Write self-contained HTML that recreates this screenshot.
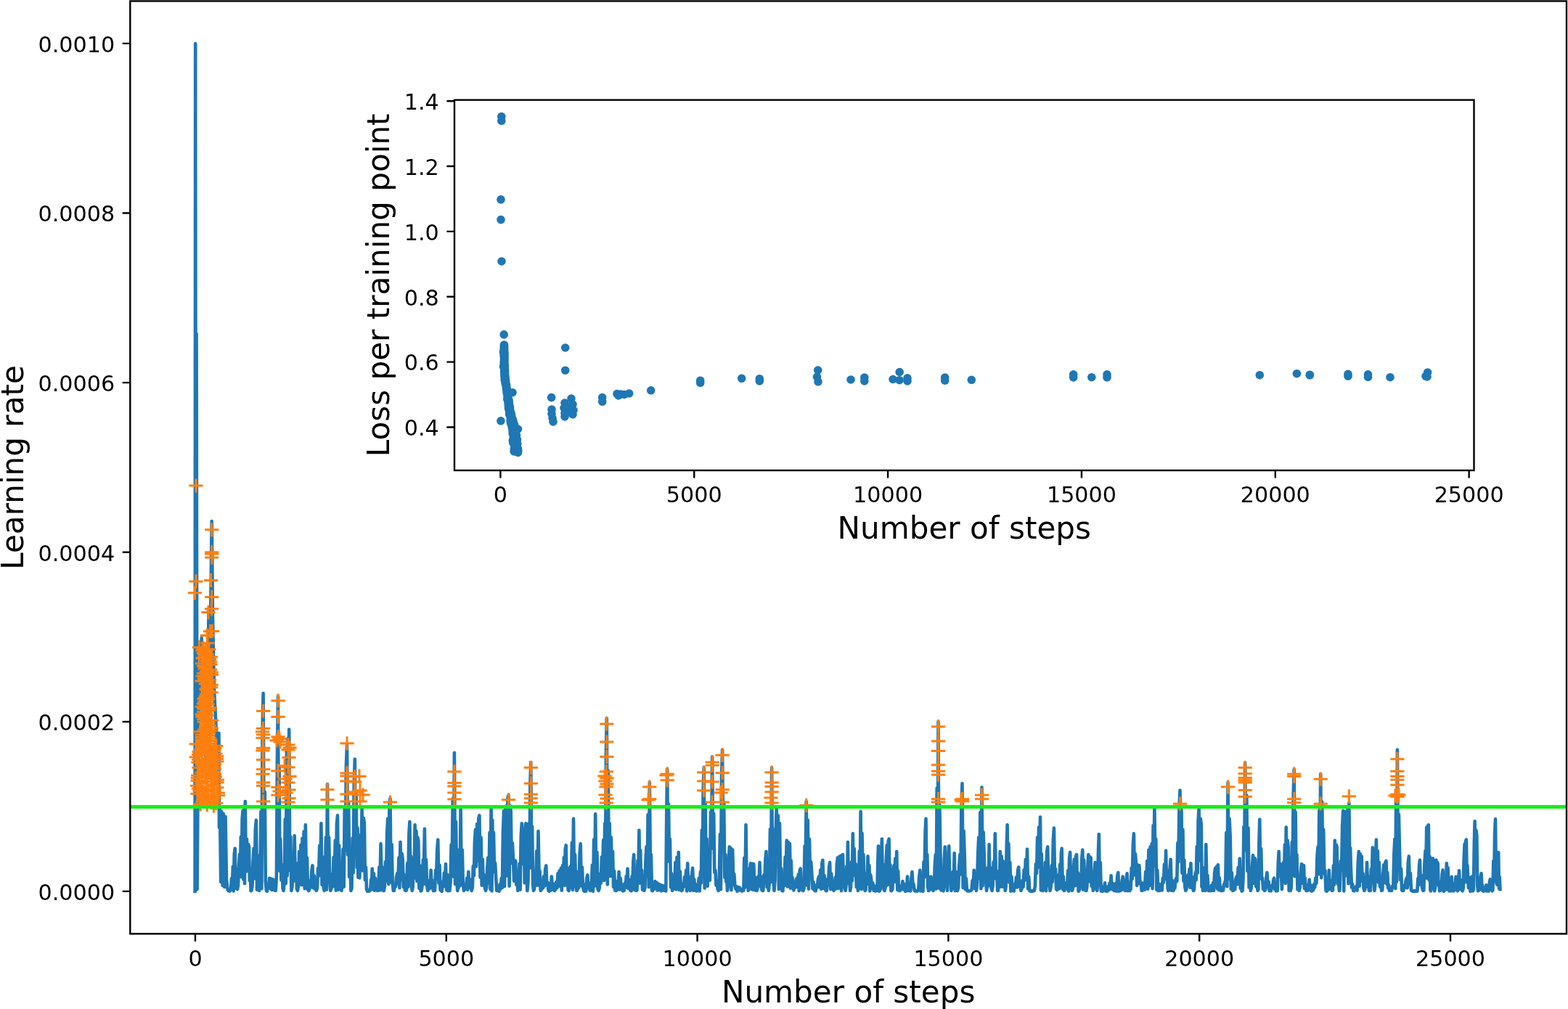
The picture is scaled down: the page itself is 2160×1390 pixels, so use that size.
<!DOCTYPE html>
<html><head><meta charset="utf-8"><title>Learning rate plot</title>
<style>
html,body{margin:0;padding:0;background:#fff;width:2160px;height:1390px;overflow:hidden}
svg{display:block}
.t{font-family:"DejaVu Sans","Liberation Sans",sans-serif;font-size:30.2px;fill:#000}
.l{font-family:"DejaVu Sans","Liberation Sans",sans-serif;font-size:42.1px;fill:#000}
</style></head><body>
<svg width="2160" height="1390" viewBox="0 0 2160 1390">
<rect width="2160" height="1390" fill="#fff"/>
<path d="M268.6 1228.0 L269.2 60.0 L270.0 1226.0 L270.6 460.0 L271.6 1225.0 L272.5 1100.0 L274.5 960.0 L277.7 879.0 L280.0 950.0 L282.0 1000.0 L284.5 1069.0 L286.0 990.0 L287.5 840.0 L289.5 900.0 L291.7 718.0 L293.0 850.0 L295.0 950.0 L297.5 1000.0 L300.0 1060.0 L301.5 1010.0 L302.0 1140.0 L303.0 1115.0 L304.2 1215.0 L305.2 1118.0 L306.6 1220.0 L307.8 1121.0 L309.2 1222.0 L310.5 1125.0 L312.0 1212.0 L313.5 1225.0 L314.4 1226.9 L315.2 1226.0 L316.1 1227.8 L317.0 1227.0 L318.0 1225.6 L318.9 1210.3 L319.9 1224.7 L320.8 1193.7 L321.8 1227.5 L322.7 1177.0 L323.7 1168.7 L324.5 1218.5 L325.4 1196.8 L326.2 1224.1 L327.0 1225.0 L328.0 1220.0 L329.0 1193.0 L330.0 1177.0 L330.9 1207.2 L331.8 1153.0 L332.7 1208.3 L333.6 1129.0 L334.5 1117.0 L335.3 1211.4 L336.1 1110.5 L337.0 1217.2 L337.8 1104.0 L338.9 1200.6 L340.0 1156.0 L341.0 1199.1 L342.0 1163.0 L343.0 1166.5 L343.9 1213.1 L344.7 1196.8 L345.5 1227.2 L346.4 1227.0 L347.5 1220.7 L348.5 1188.1 L349.6 1168.7 L350.7 1210.1 L351.8 1142.8 L352.9 1129.9 L354.0 1225.6 L355.0 1178.5 L356.1 1216.9 L357.2 1227.0 L358.3 1218.0 L359.4 1118.2 L360.4 1224.2 L361.5 1009.5 L362.6 955.1 L363.7 1157.0 L364.8 1091.0 L365.8 1213.9 L366.9 1227.0 L368.0 1227.7 L369.0 1218.3 L370.1 1222.5 L371.2 1209.7 L372.3 1224.1 L373.4 1210.5 L374.4 1226.0 L375.5 1211.4 L376.6 1211.8 L377.7 1226.3 L378.7 1221.9 L379.8 1227.0 L380.9 1206.3 L381.9 1048.6 L383.0 959.4 L383.8 1149.4 L384.6 1057.5 L385.5 1200.1 L386.3 1155.7 L387.4 1212.5 L388.5 1191.3 L389.5 1223.5 L390.6 1227.0 L391.7 1213.6 L392.8 1128.5 L393.8 1217.1 L394.9 1030.0 L395.7 1206.6 L396.5 1017.4 L397.4 1161.0 L398.2 1004.7 L399.3 1199.2 L400.3 1152.9 L401.4 1227.0 L402.5 1221.4 L403.5 1189.2 L404.6 1213.7 L405.7 1151.4 L406.8 1211.1 L407.9 1189.2 L408.9 1224.8 L410.0 1227.0 L411.1 1220.0 L412.2 1173.0 L413.3 1213.4 L414.4 1163.8 L415.4 1219.2 L416.5 1154.7 L417.6 1207.3 L418.6 1145.5 L419.7 1224.2 L420.8 1136.3 L421.9 1202.5 L423.0 1181.7 L424.0 1225.2 L425.1 1227.0 L426.2 1225.9 L427.3 1213.2 L428.3 1222.3 L429.4 1199.3 L430.5 1192.4 L431.6 1223.2 L432.7 1206.2 L433.7 1224.7 L434.8 1220.1 L435.9 1227.0 L437.0 1223.6 L438.1 1196.1 L439.1 1206.6 L440.2 1165.1 L441.3 1195.9 L442.4 1134.2 L443.5 1218.7 L444.5 1180.6 L445.6 1222.7 L446.7 1227.0 L447.8 1222.8 L448.9 1153.6 L449.9 1225.7 L451.0 1080.2 L452.1 1212.1 L453.1 1153.6 L454.2 1211.9 L455.3 1227.0 L456.4 1224.0 L457.5 1204.0 L458.5 1221.4 L459.6 1181.0 L460.7 1207.8 L461.8 1157.9 L462.8 1226.6 L463.9 1134.9 L465.0 1123.4 L466.1 1225.8 L467.2 1164.8 L468.2 1225.0 L469.3 1206.3 L470.4 1227.0 L471.5 1220.9 L472.6 1169.7 L473.7 1221.7 L474.7 1112.3 L475.8 1171.5 L476.9 1055.0 L478.0 1026.3 L479.1 1177.7 L480.2 1106.6 L481.2 1208.3 L482.3 1186.9 L483.4 1227.0 L484.5 1223.6 L485.6 1154.5 L486.6 1202.5 L487.7 1082.0 L488.8 1045.7 L489.7 1166.3 L490.6 1093.1 L491.6 1195.1 L492.5 1140.6 L493.4 1208.6 L494.3 1188.0 L495.4 1209.4 L496.5 1150.3 L497.5 1191.7 L498.6 1112.6 L499.7 1199.4 L500.8 1126.9 L501.9 1134.0 L502.9 1212.1 L504.0 1194.5 L505.0 1224.8 L506.1 1227.6 L507.2 1225.9 L508.3 1227.8 L509.4 1227.0 L510.2 1226.1 L511.1 1211.8 L511.9 1222.2 L512.7 1196.7 L513.8 1225.1 L514.9 1203.2 L515.9 1226.8 L517.0 1209.7 L518.1 1226.1 L519.1 1221.2 L520.2 1227.0 L521.3 1226.4 L522.4 1194.6 L523.4 1226.5 L524.5 1162.2 L525.6 1206.5 L526.6 1194.6 L527.7 1226.9 L528.8 1227.0 L529.9 1221.1 L531.0 1187.3 L532.0 1213.6 L533.1 1147.6 L534.2 1127.7 L535.3 1217.9 L536.4 1109.0 L537.5 1099.7 L538.6 1215.6 L539.6 1163.3 L540.7 1215.3 L541.8 1227.0 L542.9 1227.0 L544.0 1217.5 L545.0 1221.5 L546.1 1208.0 L547.2 1203.2 L548.3 1217.6 L549.4 1181.6 L550.4 1223.1 L551.5 1160.0 L552.6 1212.5 L553.6 1175.9 L554.7 1183.8 L555.8 1221.9 L556.9 1205.4 L557.9 1226.5 L559.0 1227.0 L560.1 1226.3 L561.2 1189.0 L562.2 1221.7 L563.3 1151.0 L564.4 1132.0 L565.2 1195.7 L566.0 1179.5 L566.9 1221.5 L567.7 1227.0 L568.7 1222.2 L569.7 1181.7 L570.6 1198.6 L571.6 1136.3 L572.5 1209.9 L573.5 1144.9 L574.4 1214.0 L575.4 1153.6 L576.3 1157.9 L577.4 1223.8 L578.5 1192.5 L579.5 1227.4 L580.6 1227.0 L581.7 1219.2 L582.8 1184.3 L583.8 1205.4 L584.9 1141.7 L586.0 1217.9 L587.0 1184.3 L588.1 1219.2 L589.2 1227.0 L590.3 1225.1 L591.4 1213.0 L592.5 1223.7 L593.6 1198.9 L594.7 1219.7 L595.8 1213.0 L596.8 1227.1 L597.9 1227.0 L599.0 1226.9 L600.1 1198.9 L601.1 1209.2 L602.2 1170.8 L603.3 1156.8 L604.4 1216.6 L605.5 1191.9 L606.5 1226.2 L607.6 1227.0 L608.7 1227.8 L609.7 1214.8 L610.8 1221.6 L611.9 1202.5 L612.9 1216.1 L614.0 1190.3 L615.1 1226.2 L616.2 1205.0 L617.2 1227.3 L618.3 1219.7 L619.4 1227.0 L620.5 1216.1 L621.6 1163.7 L622.6 1203.8 L623.7 1100.4 L624.8 1207.8 L625.9 1037.1 L627.0 1217.9 L628.0 1132.0 L629.1 1209.8 L630.2 1227.0 L631.3 1223.5 L632.4 1170.9 L633.5 1220.5 L634.6 1114.8 L635.7 1210.7 L636.8 1170.9 L637.8 1217.0 L638.9 1227.0 L640.0 1225.6 L641.0 1218.3 L642.1 1223.4 L643.2 1209.7 L644.2 1225.9 L645.3 1201.0 L646.2 1218.6 L647.1 1211.4 L647.9 1222.9 L648.8 1221.8 L649.7 1227.0 L650.8 1222.8 L651.8 1193.3 L652.9 1206.2 L653.9 1159.6 L655.0 1142.8 L656.1 1193.8 L657.2 1135.0 L658.2 1185.4 L659.3 1127.3 L660.4 1123.4 L661.5 1208.8 L662.6 1153.6 L663.7 1219.8 L664.8 1183.8 L665.9 1219.3 L667.0 1205.4 L668.0 1223.3 L669.1 1227.0 L670.2 1223.1 L671.2 1196.7 L672.3 1181.6 L673.4 1216.2 L674.5 1147.1 L675.5 1225.3 L676.6 1112.6 L677.5 1227.5 L678.3 1129.8 L679.1 1197.4 L680.0 1147.0 L681.1 1201.2 L682.1 1188.8 L683.2 1209.7 L684.3 1227.0 L685.4 1221.2 L686.5 1227.0 L687.6 1227.7 L688.6 1218.3 L689.7 1224.5 L690.8 1209.7 L691.9 1222.9 L692.9 1147.9 L694.0 1117.0 L695.1 1221.1 L696.2 1112.6 L697.3 1110.4 L698.4 1206.4 L699.4 1100.3 L700.5 1095.3 L701.6 1220.7 L702.6 1109.8 L703.7 1117.0 L704.8 1189.0 L705.9 1161.5 L707.0 1183.8 L708.1 1213.7 L709.1 1185.3 L710.2 1186.0 L711.3 1218.7 L712.3 1213.3 L713.4 1227.0 L714.5 1220.2 L715.6 1189.9 L716.6 1225.6 L717.7 1152.8 L718.8 1134.2 L719.9 1190.1 L720.9 1148.5 L722.0 1155.7 L722.7 1216.2 L723.5 1141.4 L724.2 1134.2 L725.3 1208.1 L726.4 1227.0 L727.5 1214.3 L728.5 1134.2 L729.4 1196.0 L730.4 1078.1 L731.3 1050.0 L732.2 1178.7 L733.1 1138.5 L734.1 1218.2 L735.0 1227.0 L736.1 1224.9 L737.2 1199.7 L738.2 1215.0 L739.3 1172.3 L740.4 1219.7 L741.5 1145.0 L742.6 1206.9 L743.6 1199.7 L744.7 1227.0 L745.8 1225.8 L746.9 1217.1 L748.0 1223.3 L749.0 1207.2 L750.1 1220.7 L751.2 1197.3 L752.3 1192.4 L753.4 1219.3 L754.4 1215.5 L755.5 1227.0 L756.6 1227.7 L757.6 1217.2 L758.7 1226.7 L759.8 1207.5 L760.9 1221.7 L762.0 1217.2 L763.0 1226.3 L764.1 1227.0 L765.2 1225.5 L766.3 1215.1 L767.4 1223.3 L768.5 1203.2 L769.6 1219.3 L770.6 1199.6 L771.7 1221.2 L772.8 1196.0 L773.8 1226.7 L774.9 1192.4 L775.9 1216.5 L776.8 1181.2 L777.8 1219.7 L778.7 1170.0 L779.7 1164.4 L780.7 1219.2 L781.7 1195.7 L782.6 1226.1 L783.6 1227.0 L784.7 1220.5 L785.7 1193.9 L786.8 1222.1 L787.9 1160.8 L788.9 1225.9 L790.0 1127.7 L791.1 1214.5 L792.1 1177.3 L793.2 1219.7 L794.3 1227.0 L795.4 1225.9 L796.5 1201.1 L797.5 1222.7 L798.6 1175.2 L799.7 1162.2 L800.8 1220.2 L801.9 1194.6 L803.0 1221.3 L804.1 1227.0 L805.2 1227.8 L806.2 1218.4 L807.3 1227.6 L808.3 1209.7 L809.4 1205.4 L810.5 1223.5 L811.6 1216.2 L812.7 1226.7 L813.8 1227.0 L814.9 1219.9 L815.9 1191.7 L817.0 1227.6 L818.1 1156.5 L819.1 1220.6 L820.2 1121.2 L821.3 1214.8 L822.4 1174.1 L823.5 1225.0 L824.6 1227.0 L825.7 1223.3 L826.8 1203.8 L827.8 1216.8 L828.9 1180.6 L830.0 1207.9 L831.1 1157.4 L832.1 1213.0 L833.2 1134.2 L834.1 1169.9 L834.9 1037.8 L835.8 989.6 L836.8 1218.4 L837.8 1061.9 L838.7 1196.5 L839.7 1134.2 L840.8 1206.9 L841.9 1153.6 L842.9 1201.9 L844.0 1173.0 L845.1 1222.0 L846.1 1200.0 L847.2 1226.7 L848.3 1227.0 L849.4 1226.7 L850.5 1214.0 L851.5 1220.9 L852.6 1201.0 L853.7 1225.7 L854.7 1209.7 L855.8 1222.6 L856.9 1218.3 L857.9 1227.5 L859.0 1227.0 L859.9 1226.8 L860.8 1216.9 L861.8 1222.8 L862.7 1206.8 L863.6 1222.2 L864.5 1196.7 L865.6 1224.0 L866.6 1211.8 L867.7 1225.1 L868.8 1227.0 L869.7 1227.2 L870.6 1207.1 L871.4 1219.9 L872.3 1187.2 L873.2 1177.3 L874.3 1226.3 L875.4 1210.4 L876.5 1227.0 L877.5 1226.3 L878.5 1185.5 L879.4 1202.3 L880.4 1143.9 L881.3 1216.7 L882.2 1171.4 L883.1 1214.6 L884.0 1198.9 L885.1 1225.7 L886.2 1217.6 L887.3 1227.0 L888.4 1223.6 L889.4 1186.7 L890.5 1166.5 L891.6 1207.5 L892.6 1122.2 L893.7 1221.9 L894.8 1078.0 L895.9 1185.4 L896.9 1177.3 L898.0 1227.0 L899.1 1227.1 L900.2 1220.5 L901.3 1224.7 L902.4 1214.0 L903.5 1222.2 L904.6 1215.7 L905.6 1226.6 L906.7 1217.4 L907.8 1218.3 L908.9 1226.1 L909.9 1219.0 L911.0 1227.5 L912.1 1219.8 L913.1 1226.5 L914.2 1220.5 L915.3 1226.7 L916.4 1227.0 L917.3 1227.5 L918.3 1115.5 L919.2 1059.7 L920.1 1170.5 L921.0 1107.7 L922.0 1186.9 L922.9 1155.7 L924.0 1222.1 L925.0 1203.2 L926.1 1227.0 L927.2 1224.9 L928.2 1207.5 L929.3 1219.2 L930.4 1188.0 L931.5 1225.5 L932.5 1181.0 L933.6 1212.7 L934.7 1174.1 L935.8 1225.9 L936.9 1200.5 L937.9 1225.6 L939.0 1227.0 L940.0 1226.2 L941.0 1217.5 L942.1 1221.5 L943.1 1208.1 L944.1 1219.6 L945.2 1198.7 L946.2 1227.4 L947.2 1189.2 L948.1 1220.1 L949.0 1208.1 L950.0 1224.0 L950.9 1227.0 L952.0 1224.3 L953.0 1206.1 L954.1 1195.7 L955.2 1226.8 L956.3 1211.3 L957.4 1224.6 L958.5 1227.0 L959.6 1227.4 L960.6 1218.3 L961.7 1222.5 L962.8 1209.7 L963.8 1227.5 L964.9 1201.0 L965.9 1216.1 L966.8 1143.6 L967.8 1179.3 L968.7 1086.3 L969.7 1057.6 L970.7 1223.4 L971.7 1106.7 L972.6 1200.0 L973.6 1155.7 L974.7 1220.7 L975.7 1181.6 L976.8 1194.6 L977.9 1212.6 L979.0 1118.5 L980.0 1167.7 L981.1 1042.5 L982.2 1169.0 L983.2 1120.7 L984.3 1201.8 L985.4 1198.9 L986.5 1219.6 L987.5 1213.0 L988.6 1224.5 L989.7 1227.0 L990.8 1210.9 L991.9 1149.3 L992.9 1225.2 L994.0 1071.6 L995.1 1032.8 L996.2 1162.9 L997.2 1105.0 L998.3 1208.7 L999.4 1177.3 L1000.3 1214.4 L1001.1 1210.4 L1002.0 1227.0 L1002.9 1220.5 L1003.9 1186.7 L1004.8 1166.5 L1005.7 1221.4 L1006.6 1168.3 L1007.4 1226.3 L1008.3 1170.0 L1009.2 1170.9 L1010.3 1218.2 L1011.3 1204.0 L1012.4 1220.5 L1013.5 1224.7 L1014.6 1221.2 L1015.6 1227.9 L1016.7 1221.9 L1017.8 1225.5 L1018.9 1222.6 L1020.0 1226.7 L1021.0 1224.8 L1022.1 1227.5 L1023.2 1227.0 L1024.3 1226.8 L1025.3 1181.7 L1026.4 1222.4 L1027.5 1136.3 L1028.6 1217.1 L1029.6 1196.8 L1030.7 1227.0 L1031.8 1224.2 L1032.9 1201.8 L1034.0 1189.2 L1035.1 1225.0 L1036.2 1189.8 L1037.2 1225.7 L1038.3 1190.3 L1039.4 1226.3 L1040.4 1208.7 L1041.5 1226.6 L1042.6 1227.0 L1043.6 1223.6 L1044.5 1207.5 L1045.5 1218.4 L1046.5 1188.1 L1047.4 1220.9 L1048.3 1207.5 L1049.3 1225.5 L1050.2 1227.0 L1051.3 1227.0 L1052.3 1205.4 L1053.4 1216.5 L1054.4 1183.8 L1055.5 1173.0 L1056.6 1222.3 L1057.7 1209.0 L1058.8 1227.0 L1059.9 1215.7 L1060.9 1142.3 L1062.0 1215.0 L1063.1 1057.6 L1063.9 1181.6 L1064.8 1142.3 L1065.7 1217.7 L1066.5 1227.0 L1067.6 1212.2 L1068.6 1150.7 L1069.7 1112.6 L1070.8 1188.9 L1071.8 1123.4 L1072.9 1225.0 L1074.0 1134.2 L1075.1 1208.6 L1076.2 1196.1 L1077.3 1227.0 L1078.4 1227.3 L1079.4 1204.0 L1080.5 1220.3 L1081.6 1180.9 L1082.6 1202.6 L1083.7 1157.9 L1084.8 1221.5 L1085.8 1160.1 L1086.9 1199.4 L1088.0 1162.2 L1088.9 1223.7 L1089.8 1185.5 L1090.6 1214.2 L1091.5 1208.8 L1092.4 1220.5 L1093.5 1226.5 L1094.6 1216.2 L1095.6 1222.7 L1096.7 1211.9 L1097.8 1209.7 L1098.8 1221.7 L1099.8 1204.5 L1100.7 1227.3 L1101.7 1199.3 L1102.7 1196.7 L1103.6 1222.4 L1104.6 1211.8 L1105.5 1226.6 L1106.4 1227.0 L1107.5 1224.2 L1108.6 1165.5 L1109.6 1190.6 L1110.7 1104.0 L1111.8 1219.8 L1112.8 1129.8 L1113.9 1224.6 L1115.0 1155.7 L1116.1 1206.5 L1117.2 1187.4 L1118.3 1203.2 L1119.4 1224.1 L1120.4 1215.1 L1121.5 1225.7 L1122.6 1227.0 L1123.7 1227.3 L1124.8 1219.2 L1125.8 1222.4 L1126.9 1211.4 L1128.0 1207.5 L1129.1 1222.4 L1130.2 1198.5 L1131.2 1224.7 L1132.3 1189.4 L1133.4 1184.9 L1134.5 1224.0 L1135.6 1206.0 L1136.6 1223.3 L1137.7 1227.0 L1138.8 1227.2 L1139.9 1211.4 L1140.9 1219.6 L1142.0 1195.9 L1143.1 1188.1 L1144.2 1225.1 L1145.3 1203.7 L1146.3 1224.2 L1147.4 1219.2 L1148.5 1227.0 L1149.6 1224.1 L1150.7 1208.8 L1151.7 1224.5 L1152.8 1190.7 L1153.9 1181.6 L1154.9 1223.8 L1155.9 1180.4 L1156.9 1221.4 L1158.0 1179.1 L1159.0 1227.1 L1160.0 1177.9 L1161.0 1177.3 L1161.9 1215.1 L1162.8 1202.2 L1163.7 1223.3 L1164.6 1227.0 L1165.4 1221.1 L1166.2 1193.5 L1167.1 1217.3 L1167.9 1160.0 L1169.0 1215.6 L1170.0 1204.7 L1171.1 1227.0 L1172.0 1221.9 L1172.9 1187.6 L1173.9 1213.3 L1174.8 1148.2 L1175.8 1205.3 L1176.8 1169.2 L1177.7 1206.3 L1178.7 1190.3 L1179.8 1221.9 L1180.8 1214.8 L1181.9 1227.0 L1182.8 1218.7 L1183.8 1172.5 L1184.7 1207.4 L1185.6 1118.0 L1186.5 1224.9 L1187.5 1147.7 L1188.5 1203.7 L1189.4 1177.3 L1190.5 1223.7 L1191.6 1227.0 L1192.6 1225.9 L1193.5 1203.2 L1194.5 1216.1 L1195.5 1179.5 L1196.4 1217.9 L1197.4 1192.4 L1198.3 1227.5 L1199.3 1205.3 L1200.2 1211.8 L1201.3 1223.8 L1202.4 1216.2 L1203.5 1226.7 L1204.6 1220.5 L1205.7 1227.5 L1206.7 1224.8 L1207.8 1227.0 L1208.5 1221.7 L1209.3 1186.0 L1210.0 1165.5 L1211.0 1227.8 L1212.1 1227.0 L1213.0 1223.7 L1214.0 1179.5 L1214.9 1155.7 L1215.8 1215.7 L1216.8 1191.3 L1217.7 1225.5 L1218.6 1227.0 L1219.7 1222.3 L1220.7 1185.3 L1221.8 1164.4 L1222.7 1219.3 L1223.7 1158.6 L1224.6 1155.7 L1225.5 1210.2 L1226.4 1191.3 L1227.4 1227.3 L1228.3 1227.0 L1229.4 1225.3 L1230.4 1203.9 L1231.5 1192.4 L1232.4 1214.1 L1233.3 1182.7 L1234.3 1215.2 L1235.2 1173.0 L1236.2 1225.9 L1237.2 1200.0 L1238.1 1226.6 L1239.1 1227.0 L1240.2 1226.9 L1241.2 1220.5 L1242.3 1224.8 L1243.4 1214.0 L1244.5 1225.2 L1245.5 1222.7 L1246.6 1227.0 L1247.4 1227.9 L1248.3 1217.2 L1249.2 1221.7 L1250.0 1207.5 L1251.1 1227.2 L1252.1 1220.5 L1253.2 1227.0 L1254.3 1227.3 L1255.4 1209.7 L1256.5 1201.0 L1257.6 1221.5 L1258.6 1218.3 L1259.7 1227.0 L1260.8 1227.6 L1261.8 1227.0 L1262.9 1227.7 L1264.0 1227.0 L1265.1 1227.0 L1266.2 1208.3 L1267.3 1198.9 L1268.4 1227.5 L1269.4 1217.6 L1270.5 1227.0 L1271.5 1227.8 L1272.5 1187.3 L1273.5 1208.3 L1274.5 1147.6 L1275.5 1127.7 L1276.4 1200.5 L1277.3 1177.3 L1278.2 1222.0 L1279.1 1227.0 L1279.9 1226.8 L1280.8 1217.2 L1281.6 1225.5 L1282.4 1207.5 L1283.5 1222.3 L1284.5 1220.5 L1285.6 1227.0 L1286.7 1225.1 L1287.7 1193.9 L1288.8 1177.3 L1289.7 1224.5 L1290.7 1085.6 L1291.6 1220.7 L1292.5 993.9 L1293.4 1223.4 L1294.4 1109.0 L1295.3 1166.5 L1296.4 1226.4 L1297.4 1202.5 L1298.5 1220.5 L1299.6 1227.5 L1300.7 1184.5 L1301.8 1166.5 L1302.8 1213.2 L1303.9 1220.5 L1305.0 1226.9 L1306.1 1183.8 L1307.2 1165.5 L1308.3 1214.2 L1309.3 1206.5 L1310.4 1227.0 L1311.5 1223.7 L1312.6 1201.1 L1313.6 1218.2 L1314.7 1175.2 L1315.8 1227.1 L1316.8 1201.1 L1317.9 1225.4 L1319.0 1227.0 L1320.1 1222.8 L1321.2 1193.9 L1322.3 1177.3 L1323.4 1204.4 L1324.4 1111.9 L1325.5 1079.2 L1326.6 1222.9 L1327.6 1144.6 L1328.7 1177.3 L1329.8 1225.2 L1330.9 1210.4 L1332.0 1227.0 L1333.1 1227.6 L1334.2 1227.0 L1335.2 1227.6 L1336.3 1227.0 L1337.4 1227.0 L1338.5 1225.7 L1339.6 1213.0 L1340.6 1220.2 L1341.7 1198.9 L1342.8 1224.0 L1343.8 1217.6 L1344.9 1227.0 L1346.0 1219.0 L1347.1 1178.1 L1348.2 1153.6 L1349.3 1210.4 L1350.3 1119.1 L1351.4 1224.3 L1352.5 1084.6 L1353.6 1220.2 L1354.6 1146.4 L1355.7 1177.3 L1356.8 1214.1 L1357.9 1210.4 L1359.0 1227.0 L1359.9 1221.9 L1360.8 1195.2 L1361.7 1215.0 L1362.6 1163.3 L1363.6 1220.1 L1364.5 1195.2 L1365.5 1223.3 L1366.5 1227.0 L1367.6 1221.0 L1368.7 1187.6 L1369.7 1210.2 L1370.8 1148.2 L1371.9 1208.8 L1373.0 1200.7 L1374.1 1227.0 L1375.0 1227.0 L1375.9 1200.0 L1376.8 1222.3 L1377.7 1173.0 L1378.7 1214.2 L1379.7 1179.5 L1380.6 1221.8 L1381.6 1186.0 L1382.7 1221.8 L1383.7 1213.3 L1384.8 1227.0 L1385.7 1221.3 L1386.7 1166.5 L1387.6 1136.3 L1388.5 1205.5 L1389.4 1162.2 L1390.4 1215.8 L1391.3 1188.1 L1392.4 1227.7 L1393.4 1207.5 L1394.5 1226.9 L1395.6 1227.0 L1396.7 1227.5 L1397.8 1217.7 L1398.9 1222.1 L1399.9 1208.5 L1401.0 1222.5 L1402.1 1199.2 L1403.2 1194.6 L1404.3 1221.5 L1405.3 1216.2 L1406.4 1227.0 L1407.5 1224.6 L1408.6 1212.7 L1409.6 1221.8 L1410.7 1198.4 L1411.8 1212.6 L1412.8 1184.1 L1413.9 1210.3 L1415.0 1169.8 L1416.1 1224.4 L1417.2 1207.9 L1418.3 1227.0 L1419.4 1227.8 L1420.5 1227.0 L1421.5 1227.8 L1422.6 1227.0 L1423.7 1227.5 L1424.8 1227.0 L1425.9 1220.7 L1426.9 1190.3 L1428.0 1203.3 L1429.1 1153.6 L1430.1 1194.9 L1431.0 1139.5 L1432.0 1189.3 L1433.0 1125.5 L1433.9 1226.5 L1434.8 1176.2 L1435.7 1226.6 L1436.6 1227.0 L1437.4 1224.1 L1438.3 1207.5 L1439.2 1217.8 L1440.0 1188.1 L1441.1 1227.1 L1442.1 1173.7 L1443.2 1166.5 L1444.3 1219.9 L1445.4 1206.8 L1446.5 1227.0 L1447.6 1222.7 L1448.7 1192.4 L1449.7 1215.2 L1450.8 1157.9 L1451.9 1140.6 L1453.0 1208.5 L1454.0 1196.7 L1455.1 1224.8 L1456.2 1226.1 L1457.2 1211.9 L1458.3 1205.4 L1459.2 1224.2 L1460.1 1190.7 L1460.9 1218.2 L1461.8 1176.0 L1462.7 1168.7 L1463.8 1224.7 L1464.8 1207.6 L1465.9 1227.0 L1467.0 1226.1 L1468.0 1219.8 L1469.1 1216.2 L1470.1 1224.3 L1471.1 1199.4 L1472.1 1227.7 L1473.1 1182.5 L1474.1 1174.1 L1475.0 1214.1 L1475.8 1209.4 L1476.7 1227.0 L1477.8 1224.4 L1478.8 1198.2 L1479.9 1183.8 L1481.0 1220.2 L1482.0 1179.5 L1483.1 1177.3 L1483.9 1216.5 L1484.8 1202.2 L1485.6 1227.7 L1486.4 1227.0 L1487.4 1225.1 L1488.4 1204.6 L1489.3 1219.8 L1490.3 1182.1 L1491.3 1170.9 L1492.2 1225.7 L1493.2 1184.9 L1494.1 1212.0 L1495.0 1198.9 L1495.8 1227.0 L1496.5 1227.0 L1497.4 1221.1 L1498.4 1193.9 L1499.3 1177.3 L1500.4 1214.2 L1501.5 1180.2 L1502.6 1181.6 L1503.7 1220.7 L1504.7 1211.9 L1505.8 1227.0 L1506.7 1224.6 L1507.7 1201.1 L1508.6 1188.1 L1509.5 1216.3 L1510.3 1214.0 L1511.2 1227.0 L1512.1 1219.7 L1512.9 1175.2 L1513.8 1149.3 L1514.8 1210.8 L1515.8 1188.2 L1516.7 1227.5 L1517.7 1227.0 L1518.8 1227.8 L1519.8 1221.6 L1520.9 1226.2 L1522.0 1216.2 L1523.1 1227.6 L1524.2 1221.6 L1525.2 1227.7 L1526.3 1227.0 L1527.4 1226.2 L1528.4 1216.7 L1529.5 1221.4 L1530.6 1206.4 L1531.7 1225.0 L1532.8 1216.7 L1533.8 1226.1 L1534.9 1227.0 L1536.0 1225.3 L1537.1 1217.0 L1538.1 1227.8 L1539.2 1207.1 L1540.3 1202.1 L1541.4 1227.7 L1542.5 1218.7 L1543.6 1227.0 L1544.7 1226.4 L1545.7 1214.0 L1546.8 1207.5 L1547.9 1225.5 L1548.9 1220.5 L1550.0 1227.0 L1550.9 1226.6 L1551.7 1211.1 L1552.6 1203.2 L1553.6 1227.3 L1554.5 1215.1 L1555.5 1226.3 L1556.5 1227.0 L1557.6 1224.8 L1558.7 1195.5 L1559.7 1211.1 L1560.8 1164.0 L1561.9 1148.2 L1563.0 1205.5 L1564.0 1176.3 L1565.1 1190.3 L1566.2 1219.9 L1567.2 1191.3 L1568.3 1215.4 L1569.4 1192.4 L1570.5 1217.4 L1571.6 1215.5 L1572.7 1227.0 L1573.8 1226.6 L1574.8 1219.8 L1575.9 1216.2 L1577.0 1225.7 L1578.1 1201.1 L1579.2 1216.7 L1580.2 1186.0 L1581.3 1224.8 L1582.4 1170.9 L1583.5 1220.0 L1584.6 1166.6 L1585.6 1218.0 L1586.7 1162.2 L1587.6 1224.1 L1588.6 1137.4 L1589.5 1185.0 L1590.4 1112.6 L1591.4 1193.3 L1592.3 1155.8 L1593.3 1225.8 L1594.3 1198.9 L1595.4 1227.1 L1596.4 1217.6 L1597.5 1227.0 L1598.6 1225.7 L1599.7 1218.3 L1600.7 1226.5 L1601.8 1209.7 L1602.9 1215.6 L1603.9 1190.8 L1605.0 1209.8 L1606.1 1171.9 L1606.9 1211.0 L1607.8 1199.5 L1608.6 1223.2 L1609.4 1227.0 L1610.5 1223.7 L1611.5 1198.2 L1612.6 1183.8 L1613.7 1226.7 L1614.7 1212.6 L1615.8 1227.0 L1616.7 1226.8 L1617.6 1220.1 L1618.4 1223.5 L1619.3 1213.2 L1620.2 1209.7 L1621.3 1214.0 L1622.3 1161.4 L1623.4 1187.4 L1624.4 1113.1 L1625.5 1088.9 L1626.5 1173.0 L1627.5 1115.8 L1628.4 1202.7 L1629.4 1142.8 L1630.4 1213.8 L1631.3 1184.9 L1632.2 1220.5 L1633.2 1227.0 L1634.3 1225.6 L1635.4 1212.6 L1636.5 1205.4 L1637.5 1217.2 L1638.5 1197.3 L1639.4 1222.6 L1640.4 1189.2 L1641.3 1219.9 L1642.2 1208.1 L1643.1 1224.0 L1644.0 1227.0 L1644.9 1225.8 L1645.9 1210.4 L1646.8 1202.1 L1647.8 1212.3 L1648.7 1166.3 L1649.7 1202.6 L1650.6 1130.5 L1651.6 1112.6 L1652.7 1185.4 L1653.7 1127.7 L1654.8 1135.3 L1655.5 1221.8 L1656.3 1196.4 L1657.0 1227.0 L1658.1 1222.4 L1659.2 1195.2 L1660.2 1226.9 L1661.3 1163.3 L1662.4 1216.3 L1663.4 1205.8 L1664.5 1227.0 L1665.6 1226.9 L1666.7 1223.4 L1667.8 1227.1 L1668.8 1219.8 L1669.9 1226.7 L1671.0 1216.2 L1672.1 1226.9 L1673.1 1202.5 L1674.2 1195.7 L1675.1 1214.9 L1676.1 1193.5 L1677.0 1224.5 L1677.9 1191.3 L1678.9 1226.2 L1679.8 1209.2 L1680.8 1224.8 L1681.8 1227.0 L1682.9 1227.1 L1684.0 1222.7 L1685.0 1226.6 L1686.1 1218.4 L1687.2 1216.2 L1688.3 1212.2 L1689.3 1147.1 L1690.4 1221.2 L1691.5 1078.0 L1692.6 1211.0 L1693.6 1127.7 L1694.7 1152.5 L1695.8 1224.6 L1696.9 1202.2 L1698.0 1227.0 L1699.1 1226.7 L1700.2 1219.2 L1701.2 1225.2 L1702.3 1211.4 L1703.4 1207.5 L1704.5 1218.3 L1705.6 1195.1 L1706.6 1215.9 L1707.7 1182.7 L1708.7 1223.7 L1709.7 1204.8 L1710.6 1227.7 L1711.6 1227.0 L1712.5 1210.8 L1713.4 1139.0 L1714.3 1171.2 L1715.2 1051.1 L1716.3 1163.1 L1717.3 1095.8 L1718.4 1200.0 L1719.5 1140.6 L1720.6 1222.4 L1721.7 1198.2 L1722.8 1227.0 L1723.9 1221.9 L1724.9 1194.6 L1726.0 1178.4 L1727.1 1216.7 L1728.1 1182.0 L1729.2 1183.8 L1730.3 1221.4 L1731.4 1212.6 L1732.5 1227.0 L1733.4 1225.4 L1734.4 1161.5 L1735.3 1128.8 L1736.2 1198.2 L1737.2 1169.2 L1738.1 1210.9 L1739.0 1209.7 L1740.1 1225.1 L1741.1 1221.2 L1742.2 1227.0 L1743.3 1225.2 L1744.3 1210.4 L1745.4 1202.1 L1746.5 1221.7 L1747.6 1214.5 L1748.6 1227.2 L1749.7 1227.0 L1750.8 1227.3 L1751.9 1220.1 L1752.9 1223.3 L1754.0 1213.2 L1755.1 1209.7 L1756.0 1225.1 L1756.9 1218.3 L1757.9 1227.4 L1758.8 1227.0 L1759.7 1227.1 L1760.7 1191.0 L1761.6 1173.0 L1762.7 1207.1 L1763.7 1190.3 L1764.8 1198.9 L1765.9 1225.1 L1767.0 1191.7 L1768.1 1188.1 L1769.0 1205.5 L1769.9 1163.8 L1770.8 1217.0 L1771.7 1139.6 L1772.7 1213.5 L1773.6 1157.5 L1774.6 1166.5 L1775.7 1227.0 L1776.7 1206.8 L1777.8 1227.0 L1778.8 1222.2 L1779.8 1160.1 L1780.7 1185.5 L1781.7 1093.2 L1782.7 1059.7 L1783.6 1207.3 L1784.6 1118.5 L1785.5 1201.1 L1786.4 1177.3 L1787.5 1225.3 L1788.6 1210.4 L1789.7 1227.0 L1790.8 1222.2 L1791.8 1202.5 L1792.9 1190.3 L1794.0 1216.7 L1795.0 1191.7 L1796.1 1192.4 L1796.9 1224.0 L1797.8 1209.7 L1798.6 1224.3 L1799.4 1227.0 L1800.5 1227.2 L1801.6 1219.4 L1802.6 1226.2 L1803.7 1211.8 L1804.8 1226.4 L1805.8 1219.4 L1806.9 1227.6 L1808.0 1227.0 L1809.1 1226.5 L1810.2 1218.3 L1811.2 1222.5 L1812.3 1209.7 L1813.4 1217.0 L1814.4 1180.9 L1815.5 1166.5 L1816.4 1204.2 L1817.3 1116.3 L1818.3 1169.8 L1819.2 1066.2 L1820.2 1209.2 L1821.2 1104.5 L1822.2 1183.9 L1823.2 1142.8 L1824.3 1203.7 L1825.4 1198.9 L1826.5 1227.0 L1827.6 1227.7 L1828.7 1213.0 L1829.7 1226.0 L1830.8 1198.9 L1831.9 1220.5 L1832.9 1213.0 L1834.0 1225.6 L1835.1 1227.0 L1836.0 1226.5 L1836.9 1192.5 L1837.9 1218.9 L1838.8 1157.9 L1839.7 1205.7 L1840.7 1163.6 L1841.6 1166.5 L1842.7 1217.7 L1843.7 1206.8 L1844.8 1227.0 L1845.5 1227.0 L1846.3 1199.7 L1847.0 1186.0 L1848.1 1198.7 L1849.1 1139.9 L1850.2 1116.9 L1851.3 1227.5 L1852.3 1118.0 L1853.4 1206.5 L1854.5 1119.1 L1855.5 1186.7 L1856.5 1112.6 L1857.4 1217.2 L1858.4 1106.1 L1859.3 1190.1 L1860.1 1168.0 L1861.0 1198.9 L1862.1 1222.7 L1863.1 1217.6 L1864.2 1227.0 L1865.3 1227.4 L1866.3 1223.8 L1867.4 1225.9 L1868.5 1220.5 L1869.6 1226.7 L1870.7 1188.8 L1871.8 1173.0 L1872.8 1220.6 L1873.8 1176.2 L1874.7 1209.0 L1875.7 1179.5 L1876.6 1214.0 L1877.5 1203.2 L1878.4 1222.5 L1879.3 1227.0 L1880.2 1225.9 L1881.2 1207.5 L1882.1 1216.9 L1883.0 1188.1 L1884.0 1221.7 L1885.0 1207.5 L1885.9 1227.0 L1886.9 1227.0 L1887.9 1227.0 L1888.8 1197.3 L1889.8 1209.8 L1890.8 1167.6 L1891.7 1215.7 L1892.5 1207.2 L1893.4 1227.0 L1894.2 1221.5 L1895.1 1180.2 L1895.9 1156.8 L1896.9 1210.3 L1897.8 1172.4 L1898.8 1215.4 L1899.8 1188.1 L1900.9 1221.4 L1902.0 1214.0 L1903.1 1227.0 L1904.2 1226.5 L1905.2 1203.2 L1906.3 1191.3 L1907.4 1215.9 L1908.4 1187.8 L1909.5 1186.0 L1910.4 1217.9 L1911.3 1202.4 L1912.1 1223.2 L1913.0 1218.8 L1913.9 1227.0 L1915.0 1226.9 L1916.1 1223.8 L1917.1 1226.9 L1918.2 1220.5 L1919.3 1220.1 L1920.3 1177.3 L1921.4 1155.7 L1922.3 1224.0 L1923.2 1094.2 L1924.0 1214.7 L1924.9 1032.8 L1925.9 1175.8 L1926.9 1121.9 L1927.9 1166.5 L1929.0 1212.1 L1930.1 1196.8 L1931.1 1226.3 L1932.2 1227.0 L1933.3 1227.0 L1934.4 1220.1 L1935.4 1222.9 L1936.5 1213.2 L1937.6 1209.7 L1938.7 1223.2 L1939.7 1189.6 L1940.8 1179.5 L1941.9 1218.0 L1942.9 1203.2 L1944.0 1226.7 L1945.1 1227.0 L1946.2 1227.8 L1947.2 1227.0 L1948.3 1227.9 L1949.4 1227.0 L1950.4 1227.8 L1951.5 1227.0 L1952.4 1227.5 L1953.3 1210.2 L1954.1 1219.5 L1955.0 1193.3 L1955.9 1184.9 L1957.0 1218.2 L1958.1 1206.0 L1959.1 1223.1 L1960.2 1227.0 L1961.3 1226.8 L1962.4 1190.4 L1963.5 1172.1 L1964.3 1200.5 L1965.2 1139.9 L1966.1 1209.9 L1966.9 1137.6 L1967.8 1136.4 L1968.8 1212.5 L1969.8 1180.2 L1970.3 1225.9 L1970.9 1227.4 L1971.9 1223.6 L1973.0 1197.5 L1974.0 1182.5 L1975.0 1219.0 L1976.1 1227.4 L1976.9 1223.8 L1977.6 1199.0 L1978.4 1184.8 L1979.2 1210.1 L1979.9 1187.9 L1980.7 1189.4 L1981.5 1219.8 L1982.2 1214.7 L1983.0 1227.4 L1983.9 1226.8 L1984.8 1214.7 L1985.7 1220.0 L1986.7 1204.0 L1987.6 1198.6 L1988.5 1227.8 L1989.4 1227.4 L1990.2 1225.8 L1991.1 1208.4 L1992.0 1218.8 L1992.8 1189.4 L1993.7 1225.2 L1994.6 1195.2 L1995.4 1221.5 L1996.3 1227.4 L1997.2 1226.3 L1998.0 1217.6 L1998.8 1227.5 L1999.7 1207.8 L2000.5 1223.3 L2001.2 1220.9 L2002.0 1227.4 L2002.9 1227.3 L2003.8 1217.6 L2004.6 1221.6 L2005.5 1207.8 L2006.3 1225.0 L2007.0 1220.9 L2007.8 1227.4 L2008.6 1226.4 L2009.3 1208.6 L2010.1 1199.2 L2010.9 1219.9 L2011.6 1211.9 L2012.4 1218.2 L2013.2 1225.9 L2013.9 1224.3 L2014.7 1227.4 L2015.7 1223.5 L2016.6 1184.4 L2017.6 1162.9 L2018.4 1215.5 L2019.1 1158.7 L2019.9 1156.6 L2020.7 1207.6 L2021.4 1192.3 L2022.2 1210.1 L2023.0 1223.2 L2023.7 1210.1 L2024.5 1210.1 L2025.5 1227.9 L2026.4 1208.6 L2027.4 1207.8 L2028.2 1224.8 L2029.1 1227.4 L2029.9 1224.8 L2030.8 1163.3 L2031.6 1131.2 L2032.5 1195.4 L2033.4 1143.9 L2034.3 1150.3 L2035.2 1218.4 L2036.0 1227.4 L2036.9 1226.7 L2037.8 1217.7 L2038.8 1225.2 L2039.7 1208.0 L2040.6 1203.2 L2041.4 1225.8 L2042.1 1219.3 L2042.9 1227.4 L2044.0 1227.7 L2045.1 1223.4 L2046.2 1227.0 L2047.3 1219.4 L2048.1 1227.4 L2049.0 1224.7 L2049.8 1227.4 L2050.8 1227.6 L2051.7 1216.7 L2052.7 1211.3 L2053.7 1224.5 L2054.6 1222.0 L2055.6 1227.4 L2056.4 1226.3 L2057.3 1186.0 L2058.2 1214.7 L2059.1 1147.6 L2060.0 1128.4 L2060.9 1209.7 L2061.9 1218.2 L2062.7 1218.9 L2063.4 1189.0 L2064.2 1174.4 L2065.0 1224.0 L2065.7 1208.1 L2066.5 1225.0" fill="none" stroke="#1f77b4" stroke-width="4.6" stroke-linejoin="round" stroke-linecap="square"/>
<path d="M260.4 669.0h19.2M270.0 659.4v19.2M260.4 800.9h19.2M270.0 791.3v19.2M258.9 816.8h19.2M268.5 807.2v19.2M282.1 729.8h19.2M291.7 720.2v19.2M282.1 760.8h19.2M291.7 751.2v19.2M282.1 763.0h19.2M291.7 753.4v19.2M282.1 767.9h19.2M291.7 758.3v19.2M280.9 799.4h19.2M290.5 789.8v19.2M282.1 822.6h19.2M291.7 813.0v19.2M281.9 838.8h19.2M291.5 829.2v19.2M277.4 843.6h19.2M287.0 834.0v19.2M282.9 869.5h19.2M292.5 859.9v19.2M276.4 875.3h19.2M286.0 865.7v19.2M353.0 979.5h19.2M362.6 969.9v19.2M353.0 1003.6h19.2M362.6 994.0v19.2M351.9 1008.0h19.2M361.5 998.4v19.2M353.0 1012.0h19.2M362.6 1002.4v19.2M352.4 1016.6h19.2M362.0 1007.0v19.2M353.0 1030.6h19.2M362.6 1021.0v19.2M352.2 1034.0h19.2M361.8 1024.4v19.2M353.0 1046.8h19.2M362.6 1037.2v19.2M353.0 1059.7h19.2M362.6 1050.1v19.2M352.4 1066.2h19.2M362.0 1056.6v19.2M353.0 1078.0h19.2M362.6 1068.4v19.2M353.0 1082.4h19.2M362.6 1072.8v19.2M353.0 1104.0h19.2M362.6 1094.4v19.2M373.4 965.2h19.2M383.0 955.6v19.2M373.4 987.5h19.2M383.0 977.9v19.2M373.4 1015.0h19.2M383.0 1005.4v19.2M375.4 1018.0h19.2M385.0 1008.4v19.2M371.4 1020.0h19.2M381.0 1010.4v19.2M376.4 1022.0h19.2M386.0 1012.4v19.2M373.4 1061.9h19.2M383.0 1052.3v19.2M373.4 1084.6h19.2M383.0 1075.0v19.2M375.4 1090.0h19.2M385.0 1080.4v19.2M373.4 1095.3h19.2M383.0 1085.7v19.2M387.4 1026.0h19.2M397.0 1016.4v19.2M389.4 1030.0h19.2M399.0 1020.4v19.2M387.4 1033.0h19.2M397.0 1023.4v19.2M388.4 1043.6h19.2M398.0 1034.0v19.2M387.4 1057.0h19.2M397.0 1047.4v19.2M389.4 1069.4h19.2M399.0 1059.8v19.2M387.4 1078.0h19.2M397.0 1068.4v19.2M388.4 1088.0h19.2M398.0 1078.4v19.2M388.4 1099.7h19.2M398.0 1090.1v19.2M387.4 1105.0h19.2M397.0 1095.4v19.2M382.4 1055.0h19.2M392.0 1045.4v19.2M383.4 1073.0h19.2M393.0 1063.4v19.2M384.4 1092.0h19.2M394.0 1082.4v19.2M441.4 1087.8h19.2M451.0 1078.2v19.2M441.4 1101.8h19.2M451.0 1092.2v19.2M468.4 1024.0h19.2M478.0 1014.4v19.2M468.4 1065.0h19.2M478.0 1055.4v19.2M468.4 1069.0h19.2M478.0 1059.4v19.2M468.4 1076.0h19.2M478.0 1066.4v19.2M468.4 1094.0h19.2M478.0 1084.4v19.2M468.4 1104.0h19.2M478.0 1094.4v19.2M479.2 1070.0h19.2M488.8 1060.4v19.2M479.2 1077.0h19.2M488.8 1067.4v19.2M479.4 1091.0h19.2M489.0 1081.4v19.2M479.2 1104.0h19.2M488.8 1094.4v19.2M485.4 1069.4h19.2M495.0 1059.8v19.2M486.4 1088.9h19.2M496.0 1079.3v19.2M486.4 1104.0h19.2M496.0 1094.4v19.2M490.4 1095.0h19.2M500.0 1085.4v19.2M527.9 1105.0h19.2M537.5 1095.4v19.2M616.3 1063.0h19.2M625.9 1053.4v19.2M616.3 1078.5h19.2M625.9 1068.9v19.2M616.3 1083.0h19.2M625.9 1073.4v19.2M616.3 1092.0h19.2M625.9 1082.4v19.2M616.3 1101.0h19.2M625.9 1091.4v19.2M690.9 1101.8h19.2M700.5 1092.2v19.2M721.7 1057.6h19.2M731.3 1048.0v19.2M721.7 1079.2h19.2M731.3 1069.6v19.2M721.7 1094.3h19.2M731.3 1084.7v19.2M721.7 1099.7h19.2M731.3 1090.1v19.2M721.7 1106.0h19.2M731.3 1096.4v19.2M826.2 997.2h19.2M835.8 987.6v19.2M826.2 1022.0h19.2M835.8 1012.4v19.2M826.2 1042.5h19.2M835.8 1032.9v19.2M825.7 1063.0h19.2M835.3 1053.4v19.2M823.4 1069.0h19.2M833.0 1059.4v19.2M826.4 1072.0h19.2M836.0 1062.4v19.2M824.4 1076.0h19.2M834.0 1066.4v19.2M826.4 1080.0h19.2M836.0 1070.4v19.2M825.4 1084.0h19.2M835.0 1074.4v19.2M824.4 1095.0h19.2M834.0 1085.4v19.2M826.4 1100.0h19.2M836.0 1090.4v19.2M825.7 1106.0h19.2M835.3 1096.4v19.2M885.2 1084.1h19.2M894.8 1074.5v19.2M885.2 1100.7h19.2M894.8 1091.1v19.2M883.4 1102.0h19.2M893.0 1092.4v19.2M909.6 1066.2h19.2M919.2 1056.6v19.2M909.6 1074.8h19.2M919.2 1065.2v19.2M908.4 1068.0h19.2M918.0 1058.4v19.2M960.1 1064.0h19.2M969.7 1054.4v19.2M960.1 1075.9h19.2M969.7 1066.3v19.2M960.1 1088.9h19.2M969.7 1079.3v19.2M971.5 1050.0h19.2M981.1 1040.4v19.2M971.5 1054.3h19.2M981.1 1044.7v19.2M971.5 1077.0h19.2M981.1 1067.4v19.2M971.5 1105.0h19.2M981.1 1095.4v19.2M985.5 1040.3h19.2M995.1 1030.7v19.2M985.5 1064.7h19.2M995.1 1055.1v19.2M985.5 1087.8h19.2M995.1 1078.2v19.2M985.5 1105.0h19.2M995.1 1095.4v19.2M983.4 1092.0h19.2M993.0 1082.4v19.2M1053.5 1064.0h19.2M1063.1 1054.4v19.2M1053.5 1078.0h19.2M1063.1 1068.4v19.2M1053.5 1083.5h19.2M1063.1 1073.9v19.2M1053.5 1091.0h19.2M1063.1 1081.4v19.2M1053.5 1106.0h19.2M1063.1 1096.4v19.2M1052.4 1099.0h19.2M1062.0 1089.4v19.2M1101.1 1109.4h19.2M1110.7 1099.8v19.2M1282.9 1001.0h19.2M1292.5 991.4v19.2M1282.9 1020.9h19.2M1292.5 1011.3v19.2M1282.9 1034.5h19.2M1292.5 1024.9v19.2M1282.9 1053.7h19.2M1292.5 1044.1v19.2M1282.9 1062.3h19.2M1292.5 1052.7v19.2M1282.9 1067.3h19.2M1292.5 1057.7v19.2M1282.9 1100.7h19.2M1292.5 1091.1v19.2M1282.9 1105.0h19.2M1292.5 1095.4v19.2M1315.9 1100.7h19.2M1325.5 1091.1v19.2M1315.9 1104.0h19.2M1325.5 1094.4v19.2M1314.4 1102.0h19.2M1324.0 1092.4v19.2M1342.9 1095.3h19.2M1352.5 1085.7v19.2M1342.9 1100.7h19.2M1352.5 1091.1v19.2M1615.9 1107.2h19.2M1625.5 1097.6v19.2M1681.9 1084.1h19.2M1691.5 1074.5v19.2M1705.6 1057.6h19.2M1715.2 1048.0v19.2M1705.6 1065.8h19.2M1715.2 1056.2v19.2M1705.6 1071.6h19.2M1715.2 1062.0v19.2M1705.6 1074.8h19.2M1715.2 1065.2v19.2M1705.6 1078.0h19.2M1715.2 1068.4v19.2M1705.6 1088.4h19.2M1715.2 1078.8v19.2M1705.6 1097.5h19.2M1715.2 1087.9v19.2M1773.1 1066.2h19.2M1782.7 1056.6v19.2M1773.1 1069.4h19.2M1782.7 1059.8v19.2M1773.1 1100.7h19.2M1782.7 1091.1v19.2M1773.1 1105.7h19.2M1782.7 1096.1v19.2M1809.6 1073.3h19.2M1819.2 1063.7v19.2M1809.6 1107.2h19.2M1819.2 1097.6v19.2M1848.8 1097.1h19.2M1858.4 1087.5v19.2M1915.3 1045.7h19.2M1924.9 1036.1v19.2M1915.3 1062.5h19.2M1924.9 1052.9v19.2M1915.3 1069.4h19.2M1924.9 1059.8v19.2M1915.3 1074.2h19.2M1924.9 1064.6v19.2M1915.3 1081.3h19.2M1924.9 1071.7v19.2M1915.3 1094.3h19.2M1924.9 1084.7v19.2M1915.3 1097.5h19.2M1924.9 1087.9v19.2M1912.4 1096.0h19.2M1922.0 1086.4v19.2M1917.4 1095.0h19.2M1927.0 1085.4v19.2M270.5 893.0h19.2M280.1 883.4v19.2M278.3 894.5h19.2M287.9 884.9v19.2M269.2 896.0h19.2M278.8 886.4v19.2M274.0 896.5h19.2M283.6 886.9v19.2M274.0 898.0h19.2M283.6 888.4v19.2M271.1 899.5h19.2M280.7 889.9v19.2M270.7 900.0h19.2M280.3 890.4v19.2M275.5 901.5h19.2M285.1 891.9v19.2M272.6 903.5h19.2M282.2 893.9v19.2M280.9 905.0h19.2M290.5 895.4v19.2M269.5 906.5h19.2M279.1 896.9v19.2M269.8 907.0h19.2M279.4 897.4v19.2M279.1 908.5h19.2M288.7 898.9v19.2M273.1 910.5h19.2M282.7 900.9v19.2M280.1 912.0h19.2M289.7 902.4v19.2M269.0 914.0h19.2M278.6 904.4v19.2M280.2 915.5h19.2M289.8 905.9v19.2M271.1 917.5h19.2M280.7 907.9v19.2M273.7 919.0h19.2M283.3 909.4v19.2M272.7 921.0h19.2M282.3 911.4v19.2M279.9 922.5h19.2M289.5 912.9v19.2M274.8 924.5h19.2M284.4 914.9v19.2M281.7 926.0h19.2M291.3 916.4v19.2M270.8 927.5h19.2M280.4 917.9v19.2M272.4 928.0h19.2M282.0 918.4v19.2M281.8 929.5h19.2M291.4 919.9v19.2M269.3 931.5h19.2M278.9 921.9v19.2M274.6 933.0h19.2M284.2 923.4v19.2M272.1 934.5h19.2M281.7 924.9v19.2M272.3 935.0h19.2M281.9 925.4v19.2M279.0 936.5h19.2M288.6 926.9v19.2M268.5 938.0h19.2M278.1 928.4v19.2M271.9 938.5h19.2M281.5 928.9v19.2M276.6 940.0h19.2M286.2 930.4v19.2M273.7 942.0h19.2M283.3 932.4v19.2M281.5 943.5h19.2M291.1 933.9v19.2M276.8 945.5h19.2M286.4 935.9v19.2M281.1 947.0h19.2M290.7 937.4v19.2M274.4 949.0h19.2M284.0 939.4v19.2M274.9 950.5h19.2M284.5 940.9v19.2M277.1 952.5h19.2M286.7 942.9v19.2M281.5 954.0h19.2M291.1 944.4v19.2M274.8 956.0h19.2M284.4 946.4v19.2M275.3 957.5h19.2M284.9 947.9v19.2M273.6 959.5h19.2M283.2 949.9v19.2M276.0 961.0h19.2M285.6 951.4v19.2M271.2 962.5h19.2M280.8 952.9v19.2M277.3 963.0h19.2M286.9 953.4v19.2M274.2 964.5h19.2M283.8 954.9v19.2M272.1 966.5h19.2M281.7 956.9v19.2M274.8 968.0h19.2M284.4 958.4v19.2M270.6 969.5h19.2M280.2 959.9v19.2M276.3 970.0h19.2M285.9 960.4v19.2M273.8 971.5h19.2M283.4 961.9v19.2M268.8 973.5h19.2M278.4 963.9v19.2M279.9 975.0h19.2M289.5 965.4v19.2M271.4 976.5h19.2M281.0 966.9v19.2M277.2 977.0h19.2M286.8 967.4v19.2M277.9 978.5h19.2M287.5 968.9v19.2M271.2 980.5h19.2M280.8 970.9v19.2M274.1 982.0h19.2M283.7 972.4v19.2M268.7 984.0h19.2M278.3 974.4v19.2M275.2 985.5h19.2M284.8 975.9v19.2M269.3 987.0h19.2M278.9 977.4v19.2M269.8 987.5h19.2M279.4 977.9v19.2M273.8 989.0h19.2M283.4 979.4v19.2M271.2 991.0h19.2M280.8 981.4v19.2M282.0 992.5h19.2M291.6 982.9v19.2M271.8 994.5h19.2M281.4 984.9v19.2M277.5 996.0h19.2M287.1 986.4v19.2M274.2 998.0h19.2M283.8 988.4v19.2M278.8 999.5h19.2M288.4 989.9v19.2M274.0 1001.5h19.2M283.6 991.9v19.2M281.9 1003.0h19.2M291.5 993.4v19.2M272.3 1005.0h19.2M281.9 995.4v19.2M279.9 1006.5h19.2M289.5 996.9v19.2M266.8 1008.0h19.2M276.4 998.4v19.2M277.2 1008.5h19.2M286.8 998.9v19.2M278.1 1010.0h19.2M287.7 1000.4v19.2M268.5 1012.0h19.2M278.1 1002.4v19.2M277.1 1013.5h19.2M286.7 1003.9v19.2M268.6 1015.5h19.2M278.2 1005.9v19.2M278.9 1017.0h19.2M288.5 1007.4v19.2M268.9 1019.0h19.2M278.5 1009.4v19.2M279.0 1020.5h19.2M288.6 1010.9v19.2M269.8 1022.0h19.2M279.4 1012.4v19.2M271.6 1022.5h19.2M281.2 1012.9v19.2M279.8 1024.0h19.2M289.4 1014.4v19.2M260.7 1025.0h19.2M270.3 1015.4v19.2M273.1 1026.2h19.2M282.7 1016.6v19.2M288.2 1027.4h19.2M297.8 1017.8v19.2M272.0 1028.6h19.2M281.6 1019.0v19.2M275.2 1029.8h19.2M284.8 1020.2v19.2M286.0 1031.0h19.2M295.6 1021.4v19.2M267.5 1032.2h19.2M277.1 1022.6v19.2M275.9 1033.4h19.2M285.5 1023.8v19.2M285.0 1034.6h19.2M294.6 1025.0v19.2M264.2 1035.8h19.2M273.8 1026.2v19.2M276.5 1037.0h19.2M286.1 1027.4v19.2M287.4 1038.2h19.2M297.0 1028.6v19.2M264.0 1039.4h19.2M273.6 1029.8v19.2M276.5 1040.6h19.2M286.1 1031.0v19.2M289.1 1041.8h19.2M298.7 1032.2v19.2M260.7 1043.0h19.2M270.3 1033.4v19.2M278.7 1044.2h19.2M288.3 1034.6v19.2M288.8 1045.4h19.2M298.4 1035.8v19.2M264.1 1046.6h19.2M273.7 1037.0v19.2M274.8 1047.8h19.2M284.4 1038.2v19.2M289.4 1049.0h19.2M299.0 1039.4v19.2M263.3 1050.2h19.2M272.9 1040.6v19.2M274.5 1051.4h19.2M284.1 1041.8v19.2M285.8 1052.6h19.2M295.4 1043.0v19.2M268.8 1053.8h19.2M278.4 1044.2v19.2M273.5 1055.0h19.2M283.1 1045.4v19.2M284.6 1056.2h19.2M294.2 1046.6v19.2M264.4 1057.4h19.2M274.0 1047.8v19.2M281.6 1058.6h19.2M291.2 1049.0v19.2M285.8 1059.8h19.2M295.4 1050.2v19.2M270.7 1061.0h19.2M280.3 1051.4v19.2M274.3 1062.2h19.2M283.9 1052.6v19.2M284.8 1063.4h19.2M294.4 1053.8v19.2M268.2 1064.6h19.2M277.8 1055.0v19.2M282.1 1065.8h19.2M291.7 1056.2v19.2M285.9 1067.0h19.2M295.5 1057.4v19.2M263.1 1068.2h19.2M272.7 1058.6v19.2M273.7 1069.4h19.2M283.3 1059.8v19.2M286.7 1070.6h19.2M296.3 1061.0v19.2M262.7 1071.8h19.2M272.3 1062.2v19.2M281.3 1073.0h19.2M290.9 1063.4v19.2M289.8 1074.2h19.2M299.4 1064.6v19.2M262.6 1075.4h19.2M272.2 1065.8v19.2M275.5 1076.6h19.2M285.1 1067.0v19.2M289.5 1077.8h19.2M299.1 1068.2v19.2M268.1 1079.0h19.2M277.7 1069.4v19.2M281.3 1080.2h19.2M290.9 1070.6v19.2M284.9 1081.4h19.2M294.5 1071.8v19.2M262.0 1082.6h19.2M271.6 1073.0v19.2M275.6 1083.8h19.2M285.2 1074.2v19.2M289.3 1085.0h19.2M298.9 1075.4v19.2M263.7 1086.2h19.2M273.3 1076.6v19.2M276.2 1087.4h19.2M285.8 1077.8v19.2M285.6 1088.6h19.2M295.2 1079.0v19.2M265.4 1089.8h19.2M275.0 1080.2v19.2M276.9 1091.0h19.2M286.5 1081.4v19.2M290.6 1092.2h19.2M300.2 1082.6v19.2M262.3 1093.4h19.2M271.9 1083.8v19.2M272.5 1094.6h19.2M282.1 1085.0v19.2M290.8 1095.8h19.2M300.4 1086.2v19.2M271.0 1097.0h19.2M280.6 1087.4v19.2M283.3 1098.2h19.2M292.9 1088.6v19.2M285.7 1099.4h19.2M295.3 1089.8v19.2M271.8 1100.6h19.2M281.4 1091.0v19.2M282.6 1101.8h19.2M292.2 1092.2v19.2M283.6 1103.0h19.2M293.2 1093.4v19.2M269.3 1104.2h19.2M278.9 1094.6v19.2M281.6 1105.4h19.2M291.2 1095.8v19.2M288.0 1106.6h19.2M297.6 1097.0v19.2M266.6 1107.8h19.2M276.2 1098.2v19.2M275.6 1109.0h19.2M285.2 1099.4v19.2M284.8 1110.2h19.2M294.4 1100.6v19.2M279.9 869.7h19.2M289.5 860.1v19.2M275.6 875.5h19.2M285.2 865.9v19.2M276.4 885.9h19.2M286.0 876.3v19.2M264.8 891.7h19.2M274.4 882.1v19.2" fill="none" stroke="#ff7f0e" stroke-width="3.0"/>
<line x1="179.3" y1="1111.5" x2="2158.0" y2="1111.5" stroke="#18ee18" stroke-width="4.8"/>
<rect x="179.30" y="1.50" width="1978.70" height="1284.90" fill="none" stroke="#000" stroke-width="2.4"/>
<text x="158.2" y="1239.70" text-anchor="end" class="t">0.0000</text>
<text x="158.2" y="1006.10" text-anchor="end" class="t">0.0002</text>
<text x="158.2" y="772.50" text-anchor="end" class="t">0.0004</text>
<text x="158.2" y="538.90" text-anchor="end" class="t">0.0006</text>
<text x="158.2" y="305.30" text-anchor="end" class="t">0.0008</text>
<text x="158.2" y="71.70" text-anchor="end" class="t">0.0010</text>
<text x="269.00" y="1330.8" text-anchor="middle" class="t">0</text>
<text x="614.80" y="1330.8" text-anchor="middle" class="t">5000</text>
<text x="960.60" y="1330.8" text-anchor="middle" class="t">10000</text>
<text x="1306.40" y="1330.8" text-anchor="middle" class="t">15000</text>
<text x="1652.20" y="1330.8" text-anchor="middle" class="t">20000</text>
<text x="1998.00" y="1330.8" text-anchor="middle" class="t">25000</text>
<path d="M168.70 1227.90h10.60M168.70 994.30h10.60M168.70 760.70h10.60M168.70 527.10h10.60M168.70 293.50h10.60M168.70 59.90h10.60M269.00 1286.40v10.60M614.80 1286.40v10.60M960.60 1286.40v10.60M1306.40 1286.40v10.60M1652.20 1286.40v10.60M1998.00 1286.40v10.60" stroke="#000" stroke-width="2.4" fill="none"/>
<text x="1168.65" y="1381.0" text-anchor="middle" class="l">Number of steps</text>
<text transform="translate(31.6 643.95) rotate(-90)" text-anchor="middle" class="l">Learning rate</text>
<rect x="626.00" y="137.70" width="1404.50" height="510.30" fill="#fff"/>
<g fill="#1f77b4"><circle cx="690.8" cy="160.5" r="5.8"/><circle cx="690.8" cy="166.5" r="5.8"/><circle cx="690.0" cy="274.9" r="5.8"/><circle cx="690.0" cy="302.6" r="5.8"/><circle cx="691.0" cy="360.0" r="5.8"/><circle cx="694.2" cy="460.9" r="5.8"/><circle cx="689.9" cy="579.8" r="5.8"/><circle cx="778.7" cy="479.0" r="5.8"/><circle cx="778.7" cy="510.2" r="5.8"/><circle cx="759.6" cy="547.6" r="5.8"/><circle cx="760.0" cy="564.0" r="5.8"/><circle cx="760.0" cy="570.0" r="5.8"/><circle cx="761.0" cy="576.0" r="5.8"/><circle cx="762.0" cy="581.0" r="5.8"/><circle cx="787.0" cy="549.0" r="5.8"/><circle cx="778.0" cy="555.0" r="5.8"/><circle cx="777.0" cy="562.0" r="5.8"/><circle cx="778.0" cy="569.0" r="5.8"/><circle cx="789.0" cy="557.0" r="5.8"/><circle cx="790.0" cy="565.0" r="5.8"/><circle cx="789.0" cy="571.0" r="5.8"/><circle cx="778.0" cy="574.0" r="5.8"/><circle cx="784.0" cy="560.0" r="5.8"/><circle cx="784.0" cy="568.0" r="5.8"/><circle cx="829.7" cy="547.5" r="5.8"/><circle cx="829.7" cy="553.3" r="5.8"/><circle cx="850.0" cy="542.5" r="5.8"/><circle cx="855.0" cy="543.0" r="5.8"/><circle cx="860.0" cy="543.5" r="5.8"/><circle cx="866.7" cy="542.0" r="5.8"/><circle cx="852.0" cy="545.0" r="5.8"/><circle cx="896.7" cy="537.8" r="5.8"/><circle cx="964.7" cy="524.2" r="5.8"/><circle cx="964.7" cy="527.5" r="5.8"/><circle cx="1021.7" cy="521.3" r="5.8"/><circle cx="1046.3" cy="521.7" r="5.8"/><circle cx="1046.3" cy="525.0" r="5.8"/><circle cx="1126.7" cy="510.0" r="5.8"/><circle cx="1125.5" cy="519.2" r="5.8"/><circle cx="1127.0" cy="525.8" r="5.8"/><circle cx="1172.0" cy="523.0" r="5.8"/><circle cx="1190.8" cy="520.0" r="5.8"/><circle cx="1190.8" cy="525.0" r="5.8"/><circle cx="1239.2" cy="512.5" r="5.8"/><circle cx="1230.0" cy="522.5" r="5.8"/><circle cx="1239.0" cy="523.7" r="5.8"/><circle cx="1250.0" cy="520.8" r="5.8"/><circle cx="1250.0" cy="525.0" r="5.8"/><circle cx="1301.7" cy="520.0" r="5.8"/><circle cx="1301.7" cy="524.2" r="5.8"/><circle cx="1338.3" cy="523.3" r="5.8"/><circle cx="1478.7" cy="515.8" r="5.8"/><circle cx="1478.7" cy="520.0" r="5.8"/><circle cx="1503.8" cy="519.7" r="5.8"/><circle cx="1525.0" cy="515.8" r="5.8"/><circle cx="1525.0" cy="520.0" r="5.8"/><circle cx="1735.3" cy="516.7" r="5.8"/><circle cx="1786.4" cy="514.7" r="5.8"/><circle cx="1804.3" cy="516.2" r="5.8"/><circle cx="1804.3" cy="517.0" r="5.8"/><circle cx="1857.0" cy="515.3" r="5.8"/><circle cx="1857.0" cy="518.2" r="5.8"/><circle cx="1884.5" cy="515.9" r="5.8"/><circle cx="1884.5" cy="519.4" r="5.8"/><circle cx="1915.0" cy="519.7" r="5.8"/><circle cx="1966.6" cy="513.0" r="5.8"/><circle cx="1964.0" cy="518.2" r="5.8"/><circle cx="1966.0" cy="519.0" r="5.8"/><circle cx="694.4" cy="475.0" r="5.8"/><circle cx="694.6" cy="476.5" r="5.8"/><circle cx="694.3" cy="478.0" r="5.8"/><circle cx="694.7" cy="479.5" r="5.8"/><circle cx="694.2" cy="481.0" r="5.8"/><circle cx="694.6" cy="482.5" r="5.8"/><circle cx="694.2" cy="484.0" r="5.8"/><circle cx="694.9" cy="485.5" r="5.8"/><circle cx="694.1" cy="487.0" r="5.8"/><circle cx="695.0" cy="488.5" r="5.8"/><circle cx="694.1" cy="490.0" r="5.8"/><circle cx="694.9" cy="491.5" r="5.8"/><circle cx="694.4" cy="493.0" r="5.8"/><circle cx="695.0" cy="494.5" r="5.8"/><circle cx="694.4" cy="496.0" r="5.8"/><circle cx="694.9" cy="497.5" r="5.8"/><circle cx="694.1" cy="499.0" r="5.8"/><circle cx="695.0" cy="500.5" r="5.8"/><circle cx="694.3" cy="502.0" r="5.8"/><circle cx="695.3" cy="503.5" r="5.8"/><circle cx="694.4" cy="505.0" r="5.8"/><circle cx="695.2" cy="506.5" r="5.8"/><circle cx="694.6" cy="508.0" r="5.8"/><circle cx="695.6" cy="509.5" r="5.8"/><circle cx="694.6" cy="511.0" r="5.8"/><circle cx="695.7" cy="512.5" r="5.8"/><circle cx="694.8" cy="514.0" r="5.8"/><circle cx="695.6" cy="515.5" r="5.8"/><circle cx="694.8" cy="517.0" r="5.8"/><circle cx="696.0" cy="518.5" r="5.8"/><circle cx="695.2" cy="520.0" r="5.8"/><circle cx="696.2" cy="521.5" r="5.8"/><circle cx="695.2" cy="523.0" r="5.8"/><circle cx="696.7" cy="524.5" r="5.8"/><circle cx="695.7" cy="526.0" r="5.8"/><circle cx="696.7" cy="527.5" r="5.8"/><circle cx="696.3" cy="529.0" r="5.8"/><circle cx="697.6" cy="530.5" r="5.8"/><circle cx="697.1" cy="532.0" r="5.8"/><circle cx="697.8" cy="533.5" r="5.8"/><circle cx="697.5" cy="535.0" r="5.8"/><circle cx="698.4" cy="536.5" r="5.8"/><circle cx="697.9" cy="538.0" r="5.8"/><circle cx="698.8" cy="539.5" r="5.8"/><circle cx="698.1" cy="541.0" r="5.8"/><circle cx="699.0" cy="542.5" r="5.8"/><circle cx="698.9" cy="544.0" r="5.8"/><circle cx="699.6" cy="545.5" r="5.8"/><circle cx="699.2" cy="547.0" r="5.8"/><circle cx="700.0" cy="548.5" r="5.8"/><circle cx="698.8" cy="550.0" r="5.8"/><circle cx="701.1" cy="551.5" r="5.8"/><circle cx="699.9" cy="553.0" r="5.8"/><circle cx="701.2" cy="554.5" r="5.8"/><circle cx="700.1" cy="556.0" r="5.8"/><circle cx="701.5" cy="557.5" r="5.8"/><circle cx="700.4" cy="559.0" r="5.8"/><circle cx="702.4" cy="560.5" r="5.8"/><circle cx="700.4" cy="562.0" r="5.8"/><circle cx="702.5" cy="563.5" r="5.8"/><circle cx="701.2" cy="565.0" r="5.8"/><circle cx="703.0" cy="566.5" r="5.8"/><circle cx="701.9" cy="568.0" r="5.8"/><circle cx="704.1" cy="569.5" r="5.8"/><circle cx="701.6" cy="571.0" r="5.8"/><circle cx="704.6" cy="572.5" r="5.8"/><circle cx="703.2" cy="574.0" r="5.8"/><circle cx="705.1" cy="575.5" r="5.8"/><circle cx="703.3" cy="577.0" r="5.8"/><circle cx="706.7" cy="578.5" r="5.8"/><circle cx="703.1" cy="580.0" r="5.8"/><circle cx="707.1" cy="581.5" r="5.8"/><circle cx="703.5" cy="583.0" r="5.8"/><circle cx="708.4" cy="584.5" r="5.8"/><circle cx="704.9" cy="586.0" r="5.8"/><circle cx="708.7" cy="587.5" r="5.8"/><circle cx="705.3" cy="589.0" r="5.8"/><circle cx="710.3" cy="590.5" r="5.8"/><circle cx="706.0" cy="592.0" r="5.8"/><circle cx="710.9" cy="593.5" r="5.8"/><circle cx="706.2" cy="595.0" r="5.8"/><circle cx="710.1" cy="596.5" r="5.8"/><circle cx="706.3" cy="598.0" r="5.8"/><circle cx="711.5" cy="599.5" r="5.8"/><circle cx="707.7" cy="601.0" r="5.8"/><circle cx="711.1" cy="602.5" r="5.8"/><circle cx="707.2" cy="604.0" r="5.8"/><circle cx="712.4" cy="605.5" r="5.8"/><circle cx="706.3" cy="607.0" r="5.8"/><circle cx="711.5" cy="608.5" r="5.8"/><circle cx="706.7" cy="610.0" r="5.8"/><circle cx="712.8" cy="611.5" r="5.8"/><circle cx="708.5" cy="613.0" r="5.8"/><circle cx="712.2" cy="614.5" r="5.8"/><circle cx="709.1" cy="616.0" r="5.8"/><circle cx="713.3" cy="617.5" r="5.8"/><circle cx="708.2" cy="619.0" r="5.8"/><circle cx="713.8" cy="620.5" r="5.8"/><circle cx="708.2" cy="622.0" r="5.8"/><circle cx="713.5" cy="623.5" r="5.8"/><circle cx="706.0" cy="540.7" r="5.8"/><circle cx="713.5" cy="591.0" r="5.8"/><circle cx="693.5" cy="485.0" r="5.8"/><circle cx="693.5" cy="505.0" r="5.8"/></g>
<rect x="626.00" y="137.70" width="1404.50" height="510.30" fill="none" stroke="#000" stroke-width="2.4"/>
<text x="604.80" y="600.30" text-anchor="end" class="t">0.4</text>
<text x="604.80" y="510.44" text-anchor="end" class="t">0.6</text>
<text x="604.80" y="420.58" text-anchor="end" class="t">0.8</text>
<text x="604.80" y="330.72" text-anchor="end" class="t">1.0</text>
<text x="604.80" y="240.86" text-anchor="end" class="t">1.2</text>
<text x="604.80" y="151.00" text-anchor="end" class="t">1.4</text>
<text x="689.40" y="692.0" text-anchor="middle" class="t">0</text>
<text x="956.25" y="692.0" text-anchor="middle" class="t">5000</text>
<text x="1223.10" y="692.0" text-anchor="middle" class="t">10000</text>
<text x="1489.95" y="692.0" text-anchor="middle" class="t">15000</text>
<text x="1756.80" y="692.0" text-anchor="middle" class="t">20000</text>
<text x="2023.65" y="692.0" text-anchor="middle" class="t">25000</text>
<path d="M615.40 588.50h10.60M615.40 498.64h10.60M615.40 408.78h10.60M615.40 318.92h10.60M615.40 229.06h10.60M615.40 139.20h10.60M689.40 648.00v10.60M956.25 648.00v10.60M1223.10 648.00v10.60M1489.95 648.00v10.60M1756.80 648.00v10.60M2023.65 648.00v10.60" stroke="#000" stroke-width="2.4" fill="none"/>
<text x="1328.25" y="742.4" text-anchor="middle" class="l">Number of steps</text>
<text transform="translate(536.4 392.85) rotate(-90)" text-anchor="middle" class="l">Loss per training point</text>
</svg>
</body></html>
